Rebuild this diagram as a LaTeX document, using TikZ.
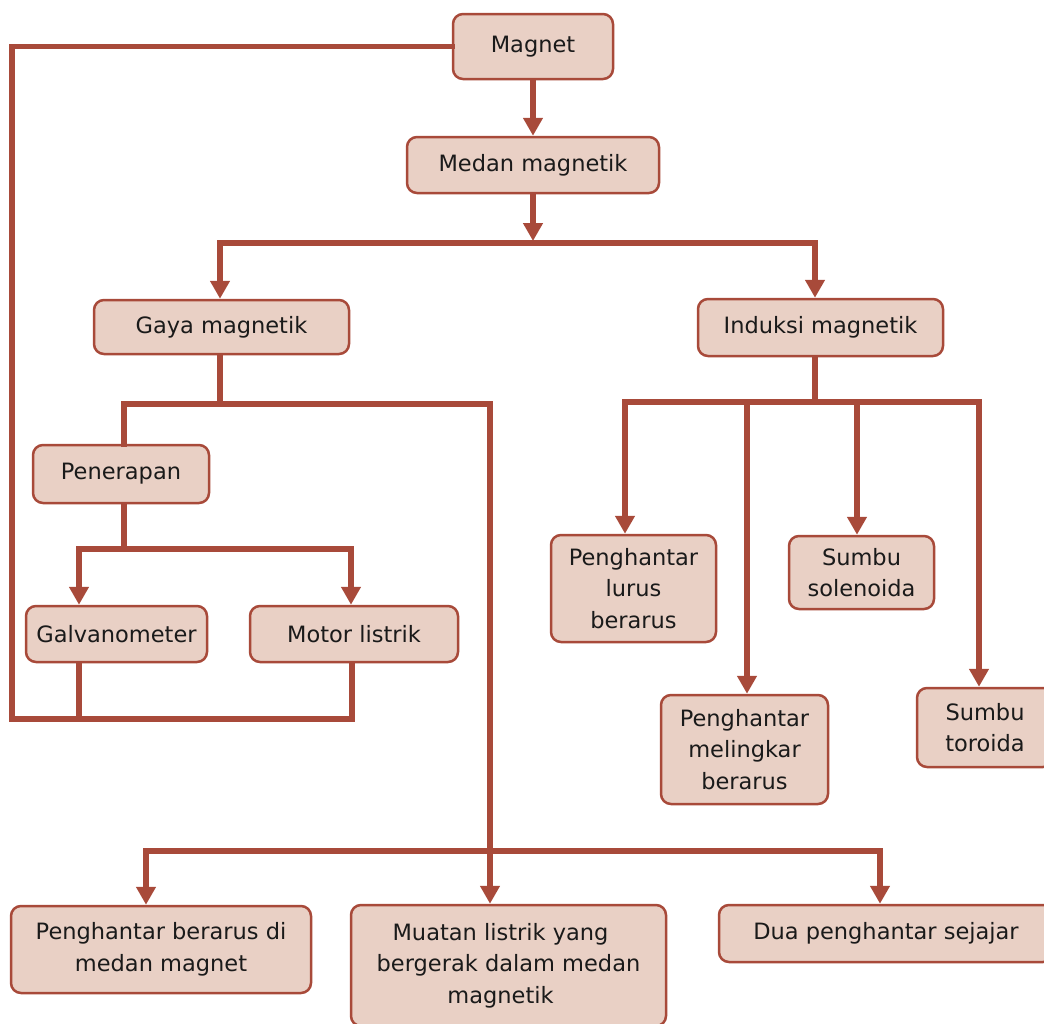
\documentclass[tikz,border=0pt]{standalone}
\usepackage{fontspec}
\setmainfont{DejaVu Sans}
\usetikzlibrary{arrows.meta}
\definecolor{brd}{HTML}{A84A3A}
\definecolor{boxfill}{HTML}{E9D0C5}
\definecolor{txt}{HTML}{1A1A1A}
\begin{document}
\begin{tikzpicture}[x=1pt,y=-1pt,
  box/.style={draw=brd, fill=boxfill, line width=2.5pt, rounded corners=10pt,
    text=txt, font=\fontsize{22.5}{31.5}\selectfont, align=center, inner sep=0pt, anchor=center},
  conn/.style={draw=brd, line width=5.5pt, line cap=rect, line join=miter},
  arr/.style={conn, -{Triangle[width=19pt,length=18pt]}}]
\useasboundingbox (0,0) rectangle (1044,1023);

% nodes
\node[box, minimum width=160pt, minimum height=65pt] (magnet) at (533,46.5) {Magnet};
\node[box, minimum width=252pt, minimum height=56pt] (medan) at (533,165) {Medan magnetik};
\node[box, minimum width=255pt, minimum height=54pt] (gaya) at (221.5,327) {Gaya magnetik};
\node[box, minimum width=245pt, minimum height=57pt] (induksi) at (820.5,327.5) {Induksi magnetik};
\node[box, minimum width=176pt, minimum height=58pt] (penerapan) at (121,474) {Penerapan};
\node[box, minimum width=181pt, minimum height=56pt] (galv) at (116.5,634) {Galvanometer};
\node[box, minimum width=208pt, minimum height=56pt] (motor) at (354,634) {Motor listrik};
\node[box, minimum width=165pt, minimum height=107pt] (lurus) at (633.5,588.5) {Penghantar\\lurus\\berarus};
\node[box, minimum width=145pt, minimum height=73pt] (solenoida) at (861.5,572.5) {Sumbu\\solenoida};
\node[box, minimum width=167pt, minimum height=109pt] (melingkar) at (744.5,749.5) {Penghantar\\melingkar\\berarus};
\node[box, minimum width=136pt, minimum height=79pt] (toroida) at (985,727.5) {Sumbu\\toroida};
\node[box, minimum width=300pt, minimum height=87pt] (berarus) at (161,949.5) {Penghantar berarus di\\medan magnet};
\node[box, minimum width=315pt, minimum height=121pt] (muatan) at (508.5,965.5) {Muatan listrik yang\hspace*{16pt}\\bergerak dalam medan\hspace*{16pt}\\magnetik\hspace*{16pt}};
\node[box, minimum width=334pt, minimum height=57pt] (dua) at (886,933.5) {Dua penghantar sejajar};

% junction coordinates
\coordinate (hL) at (220,243);
\coordinate (hR) at (815,243);
\coordinate (hM) at (533,241);
\coordinate (lc) at (12,719);
\coordinate (gb) at (79,719);
\coordinate (mb) at (352,719);
\coordinate (g1) at (124,404);
\coordinate (g2) at (490,404);
\coordinate (b1) at (146,851);
\coordinate (b2) at (880,851);
\coordinate (p0) at (124,549);
\coordinate (p1) at (79,549);
\coordinate (p2) at (351,549);
\coordinate (i0) at (815,402);
\coordinate (i1) at (625,402);
\coordinate (i2) at (747,402);
\coordinate (i3) at (857,402);
\coordinate (i4) at (979,402);

% top
\draw[arr] (magnet) -- (medan);
\draw[arr] (medan.south) -- (hM);
\draw[conn] (hL) -- (hR);
\draw[arr] (hL) -- (hL |- gaya.north);
\draw[arr] (hR) -- (hR |- induksi.north);

% left loop
\draw[conn] (magnet.west) -| (lc) -- (mb) -- (mb |- motor.south);
\draw[conn] (galv.south -| gb) -- (gb);

% gaya branch
\draw[conn] (gaya.south -| hL) -- (hL |- g1);
\draw[conn] (penerapan.north -| g1) -- (g1) -- (g2);
\draw[arr] (g2) -- (g2 |- muatan.north);
\draw[conn] (b1) -- (b2);
\draw[arr] (b1) -- (b1 |- berarus.north);
\draw[arr] (b2) -- (b2 |- dua.north);

% penerapan branch
\draw[conn] (penerapan.south -| p0) -- (p0);
\draw[conn] (p1) -- (p2);
\draw[arr] (p1) -- (p1 |- galv.north);
\draw[arr] (p2) -- (p2 |- motor.north);

% induksi branch
\draw[conn] (induksi.south -| i0) -- (i0);
\draw[conn] (i1) -- (i4);
\draw[arr] (i1) -- (i1 |- lurus.north);
\draw[arr] (i2) -- (i2 |- melingkar.north);
\draw[arr] (i3) -- (i3 |- solenoida.north);
\draw[arr] (i4) -- (i4 |- toroida.north);
\end{tikzpicture}
\end{document}
